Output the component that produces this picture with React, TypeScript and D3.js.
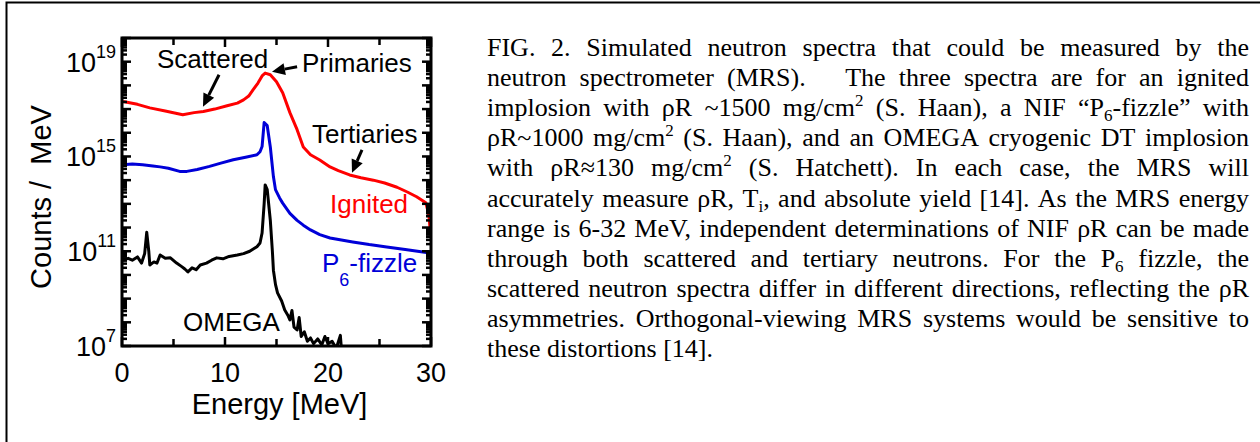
import React from 'react';
import * as d3 from 'd3';

// ---- data (energy in MeV, log10 of counts/MeV) ----
const ignitedEnergy = [0.1, 1.5, 2.7, 4.2, 5.9, 7.0, 7.9, 9.0, 10.2, 11.2, 11.8, 12.3, 12.7, 13.2, 13.6, 13.9, 14.4, 15.0, 15.6, 16.3, 17.0, 17.6, 18.3, 19.2, 20.2, 21.0, 22.1, 23.2, 24.4, 25.5, 26.7, 27.7, 28.6, 29.5, 29.8, 29.9];
const ignitedLogCounts = [17.32, 17.2, 17.05, 16.92, 16.76, 16.85, 16.9, 17.0, 17.14, 17.25, 17.39, 17.55, 17.8, 18.1, 18.4, 18.52, 18.45, 18.15, 17.69, 16.85, 16.13, 15.4, 15.07, 14.85, 14.56, 14.4, 14.22, 14.1, 14.0, 13.88, 13.7, 13.5, 13.3, 13.05, 12.5, 12.0];

const fizzleEnergy = [0.1, 1.0, 2.0, 3.0, 3.7, 4.5, 5.6, 6.3, 7.3, 8.5, 9.6, 10.8, 12.0, 13.1, 13.4, 13.6, 13.8, 14.1, 14.4, 14.7, 14.9, 15.3, 15.6, 16.3, 17.0, 17.6, 18.3, 19.2, 20.2, 21.3, 22.4, 24.0, 25.7, 27.5, 29.2, 29.9];
const fizzleLogCounts = [14.65, 14.68, 14.65, 14.6, 14.56, 14.5, 14.37, 14.37, 14.45, 14.58, 14.72, 14.86, 14.97, 15.07, 15.2, 15.42, 16.43, 16.3, 15.4, 14.15, 13.6, 13.25, 13.03, 12.6, 12.3, 12.1, 11.9, 11.7, 11.56, 11.47, 11.39, 11.28, 11.18, 11.07, 10.97, 10.93];

const omegaEnergy = [0.1, 0.6, 1.0, 1.5, 1.9, 2.2, 2.4, 2.6, 2.7, 3.1, 3.4, 3.7, 4.2, 4.7, 5.3, 5.8, 6.1, 6.4, 6.8, 7.2, 7.6, 8.2, 8.7, 9.2, 9.8, 10.4, 11.2, 11.8, 12.4, 13.1, 13.4, 13.6, 13.8, 13.9, 14.1, 14.4, 14.6, 14.7, 14.9, 15.1, 15.5, 15.8, 16.1, 16.3, 16.5, 16.7, 17.0, 17.2, 17.4, 17.7, 18.0, 18.3, 18.6, 19.0, 19.4, 19.7, 20.0, 20.4, 20.8, 21.2, 21.3];
const omegaLogCounts = [10.63, 10.7, 10.62, 10.76, 10.5, 10.9, 11.8, 11.0, 10.42, 10.55, 10.5, 10.84, 10.7, 10.72, 10.5, 10.35, 10.25, 10.13, 10.3, 10.22, 10.42, 10.5, 10.62, 10.72, 10.68, 10.78, 10.84, 10.9, 11.0, 11.19, 11.35, 11.77, 13.0, 13.8, 13.6, 12.3, 11.0, 10.2, 9.6, 9.24, 8.9, 8.52, 8.3, 8.1, 8.5, 7.8, 7.68, 8.2, 7.4, 7.6, 7.2, 7.34, 7.1, 7.3, 7.05, 7.4, 7.1, 7.2, 6.9, 7.45, 6.9];

const xTickValues = [0, 10, 20, 30];
const xMinorTickValues = [5, 15, 25];
const yLabelExponents = [7, 11, 15, 19];

const captionLines = [
  'FIG. 2. Simulated neutron spectra that could be measured by the',
  'neutron spectrometer (MRS).   The three spectra are for an ignited',
  'implosion with ρR ~1500 mg/cm^{2} (S. Haan), a NIF “P_{6}-fizzle” with',
  'ρR~1000 mg/cm^{2} (S. Haan), and an OMEGA cryogenic DT implosion',
  'with ρR≈130 mg/cm^{2} (S. Hatchett). In each case, the MRS will',
  'accurately measure ρR, T_{i}, and absolute yield [14]. As the MRS energy',
  'range is 6-32 MeV, independent determinations of NIF ρR can be made',
  'through both scattered and tertiary neutrons. For the P_{6} fizzle, the',
  'scattered neutron spectra differ in different directions, reflecting the ρR',
  'asymmetries. Orthogonal-viewing MRS systems would be sensitive to',
  'these distortions [14].',
];

// ---- layout ----
const W = 1260;
const H = 442;
const PL = 122, PR = 431, PT = 38, PB = 346;
const SANS = '"Liberation Sans", Arial, sans-serif';
const SERIF = '"Liberation Serif", "Times New Roman", serif';

const x = d3.scaleLinear().domain([0, 30]).range([PL, PR]);
const y = d3.scaleLog().domain([1e7, 1e20]).range([PB, PT]);

type Pt = [number, number];
const toPts = (es: number[], ls: number[]): Pt[] => es.map((e, i) => [e, Math.pow(10, ls[i])]);
const line = d3.line<Pt>().x(d => x(d[0])).y(d => y(Math.max(d[1], 1e6)));

type Seg = { t: string; k?: 'sup' | 'sub' };
function parseSegs(tok: string): Seg[] {
  const parts = tok.split(/(\^\{[^}]*\}|_\{[^}]*\})/g).filter(p => p !== '');
  return parts.map(p =>
    p.startsWith('^{') ? { t: p.slice(2, -1), k: 'sup' as const } :
    p.startsWith('_{') ? { t: p.slice(2, -1), k: 'sub' as const } : { t: p });
}

let ctx: CanvasRenderingContext2D | null = null;
function measure(text: string, size: number): number {
  if (!ctx) ctx = document.createElement('canvas').getContext('2d');
  if (!ctx) return text.length * size * 0.45;
  ctx.font = `${size}px "Liberation Serif"`;
  return ctx.measureText(text).width;
}

const CAP_FS = 26;
const CAP_SMALL = 17;
const CAP_X0 = 487;
const CAP_X1 = 1249;
const CAP_Y0 = 56;
const CAP_DY = 30.1;

function Caption() {
  const out: React.ReactNode[] = [];
  captionLines.forEach((ln, li) => {
    const toks = ln.split(' ');
    const segsList = toks.map(parseSegs);
    const widths = segsList.map(ss => ss.reduce((a, s) => a + measure(s.t, s.k ? CAP_SMALL : CAP_FS), 0));
    const total = widths.reduce((a, b) => a + b, 0);
    const nGaps = toks.length - 1;
    const spaceW = measure(' ', CAP_FS);
    const last = li === captionLines.length - 1;
    let gap = last ? spaceW : (CAP_X1 - CAP_X0 - total) / nGaps;
    let sx = 1;
    const minGap = spaceW * 0.75;
    if (!last && gap < minGap) {
      gap = minGap;
      sx = (CAP_X1 - CAP_X0) / (total + nGaps * gap);
    }
    const base = CAP_Y0 + li * CAP_DY;
    let cx = 0;
    const words: React.ReactNode[] = [];
    segsList.forEach((ss, ti) => {
      if (ss.length) {
        let cur = 0;
        words.push(
          <text key={ti} x={cx} y={0} fontFamily={SERIF} fontSize={CAP_FS} fill="#000">
            {ss.map((s, si) => {
              const target = s.k === 'sup' ? -10 : s.k === 'sub' ? 5 : 0;
              const dy = target - cur;
              cur = target;
              return <tspan key={si} dy={dy} fontSize={s.k ? CAP_SMALL : CAP_FS}>{s.t}</tspan>;
            })}
          </text>
        );
      }
      cx += widths[ti] + gap;
    });
    out.push(
      <g key={li} transform={`translate(${CAP_X0},${base}) scale(${sx},1)`}>{words}</g>
    );
  });
  return <g>{out}</g>;
}

function Arrow({ e0, l0, e1, l1 }: { e0: number; l0: number; e1: number; l1: number }) {
  const x0 = x(e0), y0 = y(Math.pow(10, l0)), x1 = x(e1), y1 = y(Math.pow(10, l1));
  const ang = Math.atan2(y1 - y0, x1 - x0);
  const hl = 13, hw = 6;
  const bx = x1 - hl * Math.cos(ang), by = y1 - hl * Math.sin(ang);
  const px = -Math.sin(ang) * hw, py = Math.cos(ang) * hw;
  return (
    <g>
      <line x1={x0} y1={y0} x2={bx} y2={by} stroke="#000" strokeWidth={3} />
      <polygon points={`${x1},${y1} ${bx + px},${by + py} ${bx - px},${by - py}`} fill="#000" />
    </g>
  );
}

export default function App() {
  const ignited = toPts(ignitedEnergy, ignitedLogCounts);
  const fizzle = toPts(fizzleEnergy, fizzleLogCounts);
  const omega = toPts(omegaEnergy, omegaLogCounts);

  const yTicks: { v: number; major: boolean }[] = [];
  for (let d = 7; d < 20; d++) {
    for (let k = 1; k <= 9; k++) yTicks.push({ v: k * Math.pow(10, d), major: k === 1 });
  }
  yTicks.push({ v: 1e20, major: true });

  return (
    <svg width={W} height={H} style={{ position: 'absolute', left: 0, top: 0, background: '#fff' }}>
      <defs>
        <clipPath id="plotclip">
          <rect x={PL} y={PT} width={PR - PL} height={PB - PT} />
        </clipPath>
      </defs>
      <rect x={0} y={0} width={W} height={H} fill="#fff" />
      {/* outer frame */}
      <rect x={6.5} y={2.5} width={W + 20} height={H + 20} fill="none" stroke="#000" strokeWidth={2} />

      {/* curves */}
      <g clipPath="url(#plotclip)" fill="none" strokeWidth={3} strokeLinejoin="round">
        <path d={line(ignited) || ''} stroke="#ff0000" />
        <path d={line(fizzle) || ''} stroke="#0000d8" />
        <path d={line(omega) || ''} stroke="#000" />
      </g>

      {/* ticks */}
      <g stroke="#000" strokeWidth={2.5}>
        {yTicks.map((t, i) => {
          const yy = y(t.v);
          const len = t.major ? 9 : 5;
          return (
            <g key={i}>
              <line x1={PL} x2={PL + len} y1={yy} y2={yy} />
              <line x1={PR} x2={PR - len} y1={yy} y2={yy} />
            </g>
          );
        })}
        {[...xTickValues, ...xMinorTickValues].map((v, i) => {
          const xx = x(v);
          const len = xTickValues.includes(v) ? 9 : 7;
          return (
            <g key={'x' + i}>
              <line x1={xx} x2={xx} y1={PB} y2={PB - len} />
              <line x1={xx} x2={xx} y1={PT} y2={PT + len} />
            </g>
          );
        })}
      </g>
      <rect x={PL} y={PT} width={PR - PL} height={PB - PT} fill="none" stroke="#000" strokeWidth={3} />

      {/* tick labels */}
      {xTickValues.map(v => (
        <text key={v} x={x(v)} y={382} textAnchor="middle" fontFamily={SANS} fontSize={27} fill="#000">{v}</text>
      ))}
      {yLabelExponents.map(e => (
        <text key={e} x={116} y={y(Math.pow(10, e)) + 10} textAnchor="end" fontFamily={SANS} fontSize={27} fill="#000">
          10<tspan dy={-14} fontSize={18}>{e}</tspan>
        </text>
      ))}

      {/* axis titles */}
      <text x={(PL + PR) / 2 + 3} y={414} textAnchor="middle" fontFamily={SANS} fontSize={29} fill="#000">Energy [MeV]</text>
      <text transform={`translate(51,${(PT + PB) / 2 + 5}) rotate(-90)`} textAnchor="middle" fontFamily={SANS} fontSize={29} fill="#000" style={{ whiteSpace: 'pre' }}>Counts /  MeV</text>

      {/* annotations */}
      <text x={157} y={68} fontFamily={SANS} fontSize={26} fill="#000">Scattered</text>
      <text x={302} y={72} fontFamily={SANS} fontSize={26} fill="#000">Primaries</text>
      <text x={312} y={143} fontFamily={SANS} fontSize={26} fill="#000">Tertiaries</text>
      <text x={330} y={213} fontFamily={SANS} fontSize={26} fill="#ff0000">Ignited</text>
      <text x={322} y={272} fontFamily={SANS} fontSize={26} fill="#0000d8">
        P<tspan dy={14} fontSize={18}>6</tspan><tspan dy={-14}>-fizzle</tspan>
      </text>
      <text x={183} y={331} fontFamily={SANS} fontSize={26} fill="#000">OMEGA</text>

      <Arrow e0={9.42} l0={18.45} e1={7.86} l1={17.1} />
      <Arrow e0={17.0} l0={18.79} e1={14.56} l1={18.58} />
      <Arrow e0={23.3} l0={15.28} e1={22.33} l1={14.31} />

      <Caption />
    </svg>
  );
}
